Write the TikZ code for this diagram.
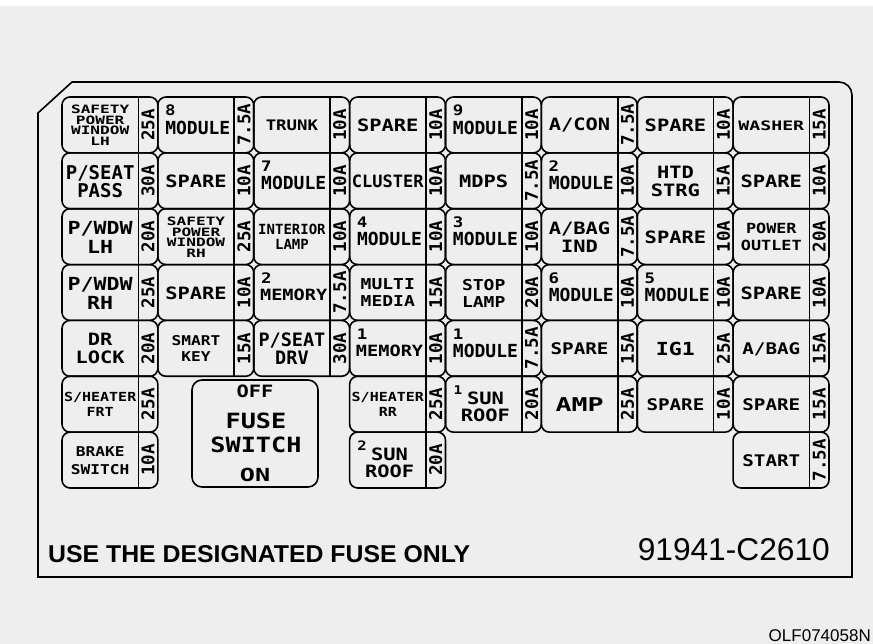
\documentclass[tikz,border=0pt]{standalone}
\usepackage{fontspec}
\newfontfamily\labA{DejaVu Sans Mono}
\newfontfamily\labB{DejaVu Sans Mono}[FakeStretch=1.2]
\newfontfamily\labC{DejaVu Sans Mono}[FakeStretch=1.4]
\newfontfamily\botfont{Liberation Sans}
\newcommand\FA[2]{\labA\bfseries\fontsize{#1}{#2}\selectfont}
\newcommand\FB[2]{\labB\bfseries\fontsize{#1}{#2}\selectfont}
\newcommand\FC[2]{\labC\bfseries\fontsize{#1}{#2}\selectfont}
\definecolor{bg}{RGB}{238,238,238}
\tikzset{
 fusebox/.style={draw, line width=1.6pt, rounded corners=8pt, minimum width=95.875pt, minimum height=55.857pt, inner sep=0pt, outer sep=0pt},
 divline/.style={line width=1.6pt},
 lbl/.style={inner sep=0pt, align=center},
 rate/.style={inner sep=0pt, rotate=90, font=\FA{17.5}{17}},
 num/.style={inner sep=0pt, font=\FB{14.5}{14}},
 frame/.style={line width=1.6pt},
}
% #1 name, #2 col, #3 row, #4 font, #5 label, #6 rating, #7 number
\newcommand\fuse[7]{%
 \node[fusebox] (#1) at ({62+(#2-0.5)*95.875},{97+(#3-0.5)*55.857}) {};
 \draw[divline] ([xshift=-19.5pt]#1.north east) -- ([xshift=-19.5pt]#1.south east);
 \node[rate] (#1r) at ([xshift=-9.75pt]#1.east) {#6};
 \if\relax\detokenize{#7}\relax
   \node[lbl,font=#4] (#1l) at ([xshift=-9.75pt,yshift=-0.5pt]#1.center) {#5};
 \else
   \node[lbl,font=#4] (#1l) at ([xshift=-8pt,yshift=-2.6pt]#1.center) {#5};
   \node[num] (#1n) at ([xshift=12.5pt,yshift=-13.5pt]#1.north west) {#7};
 \fi
}
\begin{document}
\begin{tikzpicture}[x=1pt,y=-1pt]
\useasboundingbox (0,0) rectangle (873,644);
\fill[bg] (0,0) rectangle (873,644);
\fill[white] (0,0) rectangle (873,6);
% outer frame
\draw[frame] (38,113) -- (72,82) -- (700,82) [rounded corners=13pt] -- (852,82) -- (852,200) [sharp corners] -- (852,577) -- (38,577) -- cycle;
% row 1
\fuse{a1}{1}{1}{\FC{11.5}{10.5}}{SAFETY\\POWER\\WINDOW\\LH}{25A}{}
\fuse{a2}{2}{1}{\FA{18}{19}}{MODULE}{7.5A}{8}
\fuse{a3}{3}{1}{\FB{14.5}{16}}{TRUNK}{10A}{}
\fuse{a4}{4}{1}{\FB{17}{18}}{SPARE}{10A}{}
\fuse{a5}{5}{1}{\FA{18}{19}}{MODULE}{10A}{9}
\fuse{a6}{6}{1}{\FB{17}{18}}{A/CON}{7.5A}{}
\fuse{a7}{7}{1}{\FB{17}{18}}{SPARE}{10A}{}
\fuse{a8}{8}{1}{\FC{13}{14}}{WASHER}{15A}{}
% row 2
\fuse{b1}{1}{2}{\FA{19}{18}}{P/SEAT\\PASS}{30A}{}
\fuse{b2}{2}{2}{\FB{17}{18}}{SPARE}{10A}{}
\fuse{b3}{3}{2}{\FA{18}{19}}{MODULE}{10A}{7}
\fuse{b4}{4}{2}{\FA{17}{18}}{CLUSTER}{10A}{}
\fuse{b5}{5}{2}{\FB{17}{18}}{MDPS}{7.5A}{}
\fuse{b6}{6}{2}{\FA{18}{19}}{MODULE}{10A}{2}
\fuse{b7}{7}{2}{\FB{17}{18}}{HTD\\STRG}{15A}{}
\fuse{b8}{8}{2}{\FB{17}{18}}{SPARE}{10A}{}
% row 3
\fuse{c1}{1}{3}{\FB{18}{19}}{P/WDW\\LH}{20A}{}
\fuse{c2}{2}{3}{\FC{11.5}{10.5}}{SAFETY\\POWER\\WINDOW\\RH}{25A}{}
\fuse{c3}{3}{3}{\FA{14}{15}}{INTERIOR\\LAMP}{10A}{}
\fuse{c4}{4}{3}{\FA{18}{19}}{MODULE}{10A}{4}
\fuse{c5}{5}{3}{\FA{18}{19}}{MODULE}{10A}{3}
\fuse{c6}{6}{3}{\FB{17}{18}}{A/BAG\\IND}{7.5A}{}
\fuse{c7}{7}{3}{\FB{17}{18}}{SPARE}{10A}{}
\fuse{c8}{8}{3}{\FB{14}{17}}{POWER\\OUTLET}{20A}{}
% row 4
\fuse{d1}{1}{4}{\FB{18}{19}}{P/WDW\\RH}{25A}{}
\fuse{d2}{2}{4}{\FB{17}{18}}{SPARE}{10A}{}
\fuse{d3}{3}{4}{\FB{15.5}{17}}{MEMORY}{7.5A}{2}
\fuse{d4}{4}{4}{\FB{15}{17}}{MULTI\\MEDIA}{15A}{}
\fuse{d5}{5}{4}{\FB{15}{17}}{STOP\\LAMP}{20A}{}
\fuse{d6}{6}{4}{\FA{18}{19}}{MODULE}{10A}{6}
\fuse{d7}{7}{4}{\FA{18}{19}}{MODULE}{10A}{5}
\fuse{d8}{8}{4}{\FB{17}{18}}{SPARE}{10A}{}
% row 5
\fuse{e1}{1}{5}{\FB{17}{18}}{DR\\LOCK}{20A}{}
\fuse{e2}{2}{5}{\FB{13.5}{16}}{SMART\\KEY}{15A}{}
\fuse{e3}{3}{5}{\FA{18.5}{18}}{P/SEAT\\DRV}{30A}{}
\fuse{e4}{4}{5}{\FB{15.5}{17}}{MEMORY}{10A}{1}
\fuse{e5}{5}{5}{\FA{18}{19}}{MODULE}{7.5A}{1}
\fuse{e6}{6}{5}{\FB{16}{17}}{SPARE}{15A}{}
\fuse{e7}{7}{5}{\FB{18}{19}}{IG1}{25A}{}
\fuse{e8}{8}{5}{\FB{16}{17}}{A/BAG}{15A}{}
% row 6
\fuse{f1}{1}{6}{\FB{12.5}{15}}{S/HEATER\\FRT}{25A}{}
\fuse{f4}{4}{6}{\FB{12.5}{15}}{S/HEATER\\RR}{25A}{}
\fuse{f5}{5}{6}{\FB{17}{17}}{SUN\\ROOF}{20A}{\FB{12}{12}1}
\fuse{f6}{6}{6}{\FC{19}{19}}{AMP}{25A}{}
\fuse{f7}{7}{6}{\FB{16}{17}}{SPARE}{10A}{}
\fuse{f8}{8}{6}{\FB{16}{17}}{SPARE}{15A}{}
% row 7
\fuse{g1}{1}{7}{\FB{13.5}{18}}{BRAKE\\SWITCH}{10A}{}
\fuse{g4}{4}{7}{\FB{17}{17}}{SUN\\ROOF}{20A}{\FB{13}{13}2}
\fuse{g8}{8}{7}{\FB{16}{17}}{START}{7.5A}{}
% fuse switch
\node[draw, line width=1.6pt, rounded corners=10pt, minimum width=126pt, minimum height=107pt, inner sep=0pt, outer sep=0pt] (sw) at (255,433.5) {};
\node[inner sep=0pt, font=\FB{17}{17}] (swoff) at (255,391) {OFF};
\node[inner sep=0pt, font=\FB{21}{24}, align=center] (swtxt) at (256,433) {FUSE\\SWITCH};
\node[inner sep=0pt, font=\FC{18}{18}] (swon) at (255,475) {ON};
% bottom texts
\node[anchor=base west, inner sep=0pt] (use) at (48,562) {\resizebox{422pt}{17pt}{\botfont\bfseries USE THE DESIGNATED FUSE ONLY}};
\node[anchor=base east, inner sep=0pt] (pn) at (830,560) {\resizebox{192pt}{22pt}{\botfont 91941-C2610}};
\node[anchor=base east, inner sep=0pt, font=\botfont\fontsize{17}{17}\selectfont] (code) at (871,641) {OLF074058N};
\end{tikzpicture}
\end{document}
